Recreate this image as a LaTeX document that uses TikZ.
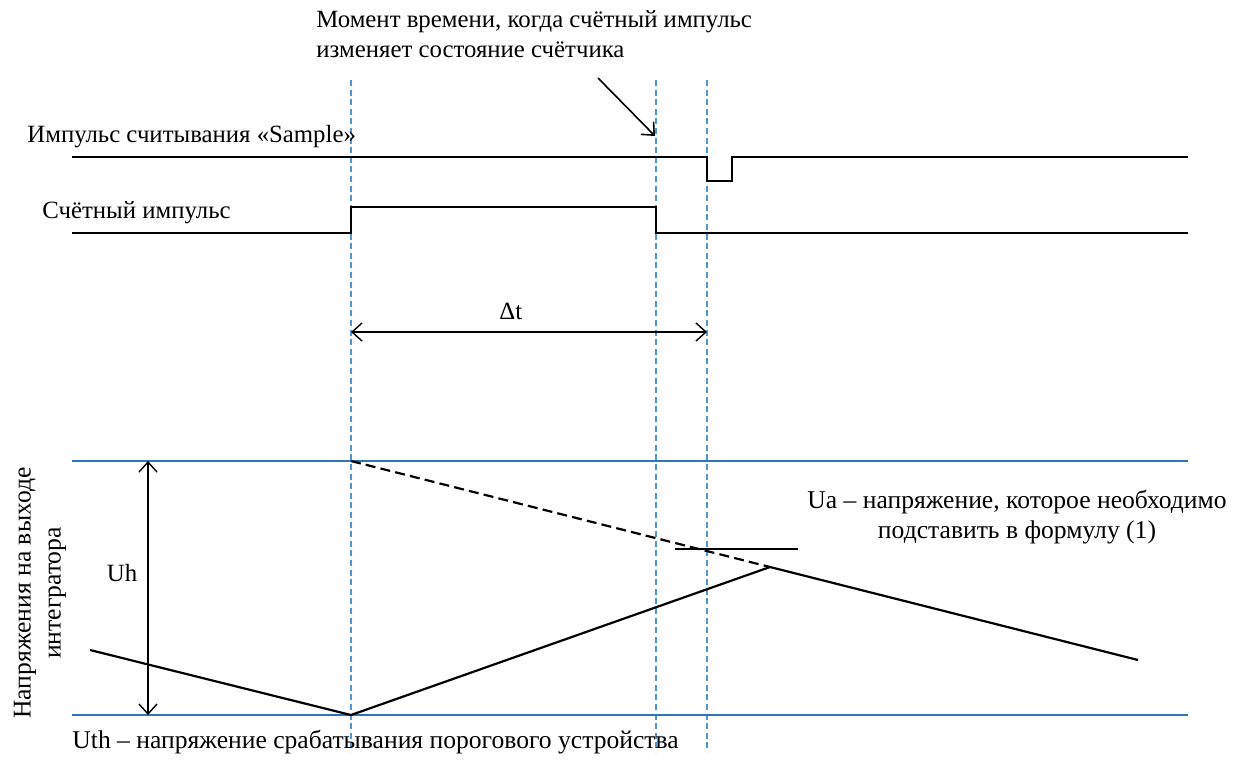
\documentclass[tikz,border=0pt]{standalone}
\usepackage{fontspec}
\setmainfont{Liberation Serif}
\usetikzlibrary{arrows.meta, positioning, calc}
\definecolor{levelblue}{RGB}{46,117,182}
\definecolor{markblue}{RGB}{80,150,215}

\begin{document}
\begin{tikzpicture}[
  x=0.5pt, y=-0.5pt,
  font=\fontsize{12.4}{15}\selectfont,
  signal/.style={line width=1.4pt, line join=miter},
  ramp/.style={line width=1.1pt},
  marker/.style={markblue, dash pattern=on 3pt off 1.8pt, line width=0.6pt},
  level/.style={levelblue, line width=0.6pt},
  barb/.style={-{Straight Barb[length=5pt,width=9pt]}, line width=0.8pt},
  dimarrow/.style={{Straight Barb[length=5pt,width=9pt]}-{Straight Barb[length=5pt,width=9pt]},
                   line width=0.7pt},
  txt/.style={inner sep=0pt},
  bigtxt/.style={inner sep=0pt, font=\fontsize{12.8}{15}\selectfont}
]
\useasboundingbox (0,0) rectangle (1235,760);

%% time markers
\coordinate (riseTop)   at (351,80);  \coordinate (riseBot)   at (351,752);
\coordinate (fallTop)   at (656,80);  \coordinate (fallBot)   at (656,752);
\coordinate (sampleTop) at (707,80);  \coordinate (sampleBot) at (707,752);
\draw[marker] (riseTop) -- (riseBot);
\draw[marker] (fallTop) -- (fallBot);
\draw[marker] (sampleTop) -- (sampleBot);

%% levels of the integrator
\coordinate (uhL)  at (72,461);  \coordinate (uhR)  at (1188,461);
\coordinate (uthL) at (72,715);  \coordinate (uthR) at (1188,715);
\draw[level] (uhL) -- (uhR);
\draw[level] (uthL) -- (uthR);

%% sample pulse and count pulse
\draw[signal] (72,157) -- (707,157) -- (707,181) -- (732,181) -- (732,157) -- (1188,157);
\draw[signal] (72,233) -- (351,233) -- (351,207) -- (656,207) -- (656,233) -- (1188,233);

\node[txt, anchor=base west] (sampleLbl) at (27,142) {Импульс считывания «Sample»};
\node[txt, anchor=base west] (countLbl)  at (42,218) {Счётный импульс};

%% note on top
\node[txt, anchor=base west] (noteA) at (316,27)
  {Момент времени, когда счётный импульс};
\node[txt, anchor=base west] (noteB) at (316,57)
  {изменяет состояние счётчика};
\coordinate (noteTail) at (598,78);
\coordinate (noteHead) at (655,136);
\draw[barb] (noteTail) -- (noteHead);

%% delta t
\coordinate (dtL) at (351,332);
\coordinate (dtR) at (707,332);
\draw[dimarrow] (dtL) -- (dtR);
\node[txt, anchor=base] (dtLbl) at ($(dtL)!0.449!(dtR)+(0,-13)$) {Δt};

%% integrator output
\coordinate (vStart) at (90,650);
\coordinate (vLow)   at (351,715);
\coordinate (vPeak)  at (770,567);
\coordinate (vEnd)   at (1138,660);
\draw[ramp] (vStart) -- (vLow) -- (vPeak) -- (vEnd);
\draw[ramp, dash pattern=on 5pt off 2.6pt] (351,461) -- (vPeak);

%% Ua
\coordinate (uaL) at (675,549);
\coordinate (uaR) at (798,549);
\draw[line width=0.8pt] (uaL) -- (uaR);
\node[bigtxt, align=center, anchor=base] (uaLbl) at (1017,538)
  {Ua -- напряжение, которое необходимо\\подставить в формулу (1)};

%% Uh
\coordinate (uhTop) at (148,461);
\coordinate (uhBot) at (148,715);
\draw[dimarrow] (uhTop) -- (uhBot);
\node[txt, anchor=base] (uhLbl) at (122,581) {Uh};

\node[bigtxt, rotate=90, align=center] (axisLbl) at (40,593)
  {Напряжения на выходе\\интегратора};

\node[bigtxt, anchor=base west] (uthLbl) at (72,748)
  {Uth -- напряжение срабатывания порогового устройства};

\end{tikzpicture}
\end{document}
